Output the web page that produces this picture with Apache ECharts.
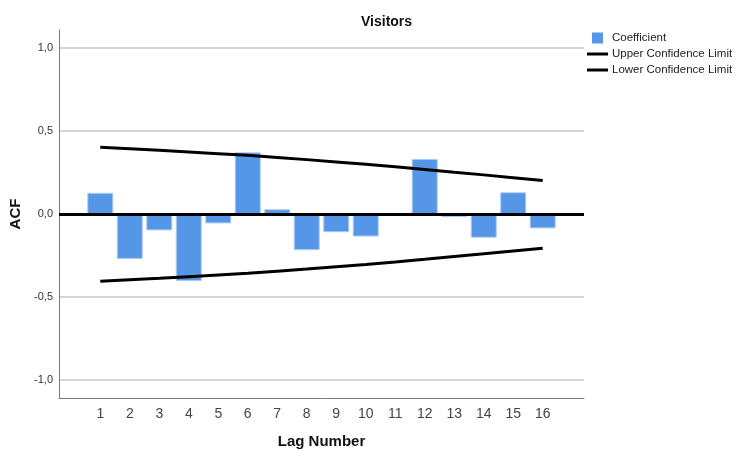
<!DOCTYPE html>
<html>
<head>
<meta charset="utf-8">
<title>Visitors ACF</title>
<script src="https://cdn.jsdelivr.net/npm/echarts@6/dist/echarts.min.js"></script>
<style>
  html, body { margin: 0; padding: 0; background: #fff; }
  #chart { width: 738px; height: 451px; }
</style>
</head>
<body>
<div id="chart"></div>
<script>
// Autocorrelation of Visitors by lag
const lags = [1, 2, 3, 4, 5, 6, 7, 8, 9, 10, 11, 12, 13, 14, 15, 16];
const coefficients = [0.128, -0.272, -0.099, -0.405, -0.057, 0.372, 0.029, -0.218, -0.110, -0.136, -0.004, 0.332, -0.019, -0.143, 0.131, -0.087];
const upperLimit = [0.402, 0.393, 0.384, 0.374, 0.364, 0.354, 0.341, 0.328, 0.314, 0.300, 0.285, 0.269, 0.252, 0.236, 0.219, 0.202];
const lowerLimit = [-0.406, -0.397, -0.388, -0.378, -0.368, -0.358, -0.345, -0.332, -0.318, -0.304, -0.289, -0.273, -0.256, -0.240, -0.223, -0.206];
const yTicks = [-1.0, -0.5, 0.0, 0.5, 1.0];

const FONT = "'Liberation Sans', Arial, sans-serif";
const pairs = (ys) => lags.map((l, i) => [l, ys[i]]);

// legend glyphs: a square swatch for the bars, a flat bar for the limit lines
const SQUARE_ICON = 'path://M0,0L10,0L10,10L0,10Z';
const LINE_ICON = 'path://M0,0L21,0L21,3L0,3Z';

const chart = echarts.init(document.getElementById('chart'), null, { renderer: 'canvas' });
chart.setOption({
  animation: false,
  backgroundColor: '#ffffff',
  textStyle: { fontFamily: FONT },
  title: {
    text: 'Visitors',
    left: 356,
    top: 10,
    textStyle: { fontFamily: FONT, fontSize: 14, fontWeight: 'bold', color: '#111' }
  },
  legend: {
    orient: 'vertical',
    left: 587,
    top: 32,
    padding: 0,
    itemWidth: 21,
    itemHeight: 11,
    itemGap: 4,
    symbolKeepAspect: true,
    textStyle: { fontFamily: FONT, fontSize: 11.5, color: '#222', padding: [0, 0, 0, -1] },
    data: [
      { name: 'Coefficient', icon: SQUARE_ICON, itemStyle: { color: '#5596e6', borderWidth: 0 } },
      { name: 'Upper Confidence Limit', icon: LINE_ICON, itemStyle: { color: '#000' } },
      { name: 'Lower Confidence Limit', icon: LINE_ICON, itemStyle: { color: '#000' } }
    ]
  },
  grid: { left: 59, right: 154, top: 30, bottom: 53, containLabel: false, outerBoundsMode: 'none' },
  xAxis: {
    type: 'value',
    min: -0.4,
    max: 17.4,
    name: 'Lag Number',
    nameLocation: 'middle',
    nameGap: 36,
    nameTextStyle: { fontFamily: FONT, fontSize: 15, fontWeight: 'bold', color: '#111' },
    axisLine: { onZero: false, lineStyle: { color: '#7a7a7a', width: 1 } },
    axisTick: { show: false, customValues: lags },
    axisLabel: { customValues: lags, fontFamily: FONT, fontSize: 14, color: '#444', margin: 9 },
    splitLine: { show: false }
  },
  yAxis: {
    type: 'value',
    min: -1.11,
    max: 1.11,
    name: 'ACF',
    nameLocation: 'middle',
    nameGap: 36,
    nameTextStyle: { fontFamily: FONT, fontSize: 15, fontWeight: 'bold', color: '#111' },
    axisLine: { show: true, onZero: false, lineStyle: { color: '#7a7a7a', width: 1 } },
    axisTick: { show: false, customValues: yTicks },
    axisLabel: {
      customValues: yTicks,
      fontFamily: FONT,
      fontSize: 11,
      color: '#333',
      margin: 6,
      formatter: (v) => v.toFixed(1).replace('.', ',')
    },
    splitLine: { show: true, lineStyle: { color: '#d6d6d6', width: 2 } }
  },
  series: [
    {
      name: 'Coefficient',
      type: 'bar',
      data: pairs(coefficients),
      barWidth: 26,
      z: 2,
      itemStyle: { color: '#5596e6', borderColor: '#aecbf1', borderWidth: 1 },
      markLine: {
        silent: true,
        symbol: 'none',
        z: 5,
        label: { show: false },
        lineStyle: { color: '#000', width: 3, type: 'solid' },
        data: [{ yAxis: 0 }]
      }
    },
    {
      name: 'Upper Confidence Limit',
      type: 'line',
      data: pairs(upperLimit),
      symbol: 'none',
      z: 4,
      lineStyle: { color: '#000', width: 3 },
      itemStyle: { color: '#000' }
    },
    {
      name: 'Lower Confidence Limit',
      type: 'line',
      data: pairs(lowerLimit),
      symbol: 'none',
      z: 4,
      lineStyle: { color: '#000', width: 3 },
      itemStyle: { color: '#000' }
    }
  ]
});
</script>
</body>
</html>
